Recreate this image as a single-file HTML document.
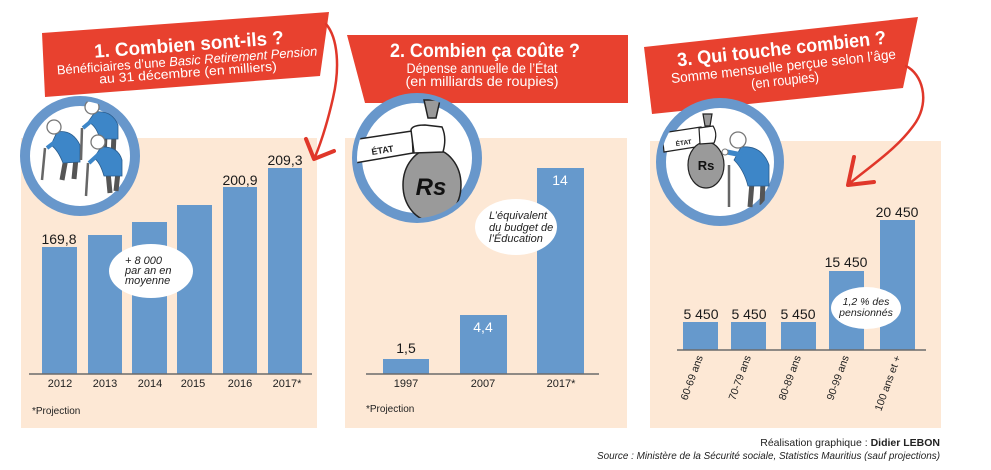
<!DOCTYPE html>
<html><head><meta charset="utf-8">
<style>
html,body{margin:0;padding:0;background:#fff;}
svg{display:block;}
text{font-family:"Liberation Sans",Arial,sans-serif;}
</style></head><body>
<svg width="991" height="470" viewBox="0 0 991 470" xmlns="http://www.w3.org/2000/svg">
<defs>
  <clipPath id="c1"><circle cx="80" cy="156" r="55"/></clipPath>
  <clipPath id="c2"><circle cx="417" cy="158" r="60"/></clipPath>
  <clipPath id="c3"><circle cx="720" cy="162" r="59"/></clipPath>
</defs>
<rect width="991" height="470" fill="#fff"/>

<!-- beige panels -->
<rect x="21" y="138" width="296" height="290" fill="#fde8d5"/>
<rect x="345" y="138" width="282" height="290" fill="#fde8d5"/>
<rect x="650" y="141" width="291" height="287" fill="#fde8d5"/>

<!-- banners -->
<polygon points="42,33 329,12 320,76 45,97" fill="#e8412f"/>
<polygon points="347,35 628,35 628,103 365,103" fill="#e8412f"/>
<polygon points="644,47 918,17 903,88 652,114" fill="#e8412f"/>

<!-- banner texts -->
<g transform="rotate(-4.2 187 60)" fill="#fff" text-anchor="middle">
  <text x="190" y="51" font-size="19" font-weight="bold" textLength="190" lengthAdjust="spacingAndGlyphs">1. Combien sont-ils ?</text>
  <text x="187" y="65" font-size="13" textLength="261" lengthAdjust="spacingAndGlyphs">Bénéficiaires d’une <tspan font-style="italic">Basic Retirement Pension</tspan></text>
  <text x="187" y="77" font-size="13" textLength="178" lengthAdjust="spacingAndGlyphs">au 31 décembre (en milliers)</text>
</g>
<g fill="#fff" text-anchor="middle">
  <text x="485" y="57" font-size="19" font-weight="bold" textLength="190" lengthAdjust="spacingAndGlyphs">2. Combien ça coûte ?</text>
  <text x="482" y="73" font-size="14" textLength="151" lengthAdjust="spacingAndGlyphs">Dépense annuelle de l’État</text>
  <text x="482" y="86" font-size="14" textLength="153" lengthAdjust="spacingAndGlyphs">(en milliards de roupies)</text>
</g>
<g transform="rotate(-6.2 783 62)" fill="#fff" text-anchor="middle">
  <text x="783" y="55" font-size="19" font-weight="bold" textLength="210" lengthAdjust="spacingAndGlyphs">3. Qui touche combien ?</text>
  <text x="783" y="71" font-size="14" textLength="226" lengthAdjust="spacingAndGlyphs">Somme mensuelle perçue selon l’âge</text>
  <text x="783" y="85" font-size="14" textLength="68" lengthAdjust="spacingAndGlyphs">(en roupies)</text>
</g>

<!-- arrows -->
<g fill="none" stroke="#e0372a" stroke-linecap="round" stroke-linejoin="round">
  <path d="M326,24 C338,38 340,68 333,98 C328,120 322,140 315,157" stroke-width="2.5"/>
  <polyline points="306,139 314,159 334,151" stroke-width="4"/>
  <path d="M906,66 C922,74 930,100 916,122 C900,146 876,162 850,183" stroke-width="2.5"/>
  <polyline points="854,157 848,185 874,182" stroke-width="4"/>
</g>

<!-- circles -->
<circle cx="80" cy="156" r="55" fill="#fff" stroke="#6897cb" stroke-width="10"/>
<circle cx="417" cy="158" r="60" fill="#fff" stroke="#6897cb" stroke-width="10"/>
<circle cx="720" cy="162" r="59" fill="#fff" stroke="#6897cb" stroke-width="10"/>

<!-- illustration 1: three old men -->
<g clip-path="url(#c1)">
  <!-- figure A -->
  <line x1="45" y1="148" x2="42" y2="180" stroke="#666" stroke-width="2.5"/>
  <path d="M66,158 L62,180 M76,158 L74,179" stroke="#555" stroke-width="5" fill="none"/>
  <path d="M57,132 Q72,129 80,145 L80,162 L63,163 Q58,150 51,145 Z" fill="#3d86c8" stroke="#2a5c8c" stroke-width="0.8"/>
  <line x1="60" y1="138" x2="47" y2="148" stroke="#3d86c8" stroke-width="4"/>
  <circle cx="54" cy="127" r="7" fill="#fff" stroke="#777" stroke-width="1.3"/>
  <!-- figure B -->
  <line x1="82" y1="128" x2="81" y2="160" stroke="#666" stroke-width="2.5"/>
  <path d="M105,134 L104,160 M114,134 L113,158" stroke="#555" stroke-width="5" fill="none"/>
  <path d="M95,112 Q112,110 118,125 L118,139 L100,139 Q96,125 88,122 Z" fill="#3d86c8" stroke="#2a5c8c" stroke-width="0.8"/>
  <line x1="95" y1="118" x2="83" y2="128" stroke="#3d86c8" stroke-width="4"/>
  <circle cx="92" cy="107" r="7" fill="#fff" stroke="#777" stroke-width="1.3"/>
  <!-- figure C -->
  <line x1="88" y1="163" x2="86" y2="196" stroke="#666" stroke-width="2.5"/>
  <path d="M108,172 L110,193 M118,172 L116,191" stroke="#555" stroke-width="5" fill="none"/>
  <path d="M101,147 Q118,146 122,160 L122,176 L104,176 Q100,162 94,158 Z" fill="#3d86c8" stroke="#2a5c8c" stroke-width="0.8"/>
  <line x1="100" y1="153" x2="89" y2="163" stroke="#3d86c8" stroke-width="4"/>
  <circle cx="98" cy="142" r="7" fill="#fff" stroke="#777" stroke-width="1.3"/>
</g>

<!-- illustration 2: hand with bag -->
<g clip-path="url(#c2)" stroke="#222" stroke-width="1.5">
  <polygon points="352,140 412,131 413,153 355,163" fill="#fff"/>
  <text x="372" y="155" transform="rotate(-9 372 155)" font-size="9" font-weight="bold" fill="#222" stroke="none">ÉTAT</text>
  <path d="M424,100 L440,100 L436,118 L428,118 Z" fill="#9a9a9a"/>
  <ellipse cx="432" cy="185" rx="29" ry="36" fill="#9a9a9a"/>
  <path d="M411,130 Q412,125 425,125 L442,127 Q447,138 443,152 L414,153 Z" fill="#fff"/>
  <text x="431" y="195" text-anchor="middle" font-size="24" font-weight="bold" font-style="italic" fill="#111" stroke="none">Rs</text>
</g>

<!-- illustration 3: bag + old man -->
<g clip-path="url(#c3)">
  <g stroke="#222" stroke-width="1.2">
    <polygon points="662,133 701,127 702,146 664,152" fill="#fff"/>
    <path d="M703,114 L712,114 L710,126 L705,126 Z" fill="#9a9a9a"/>
    <ellipse cx="706" cy="165" rx="18" ry="23" fill="#9a9a9a"/>
    <path d="M699,128 L713,126 Q718,134 714,143 L700,144 Z" fill="#fff"/>
  </g>
  <text x="676" y="146" transform="rotate(-8 676 146)" font-size="6.5" font-weight="bold" fill="#222">ÉTAT</text>
  <text x="706" y="170" text-anchor="middle" font-size="13" font-weight="bold" fill="#111">Rs</text>
  <line x1="729" y1="165" x2="729" y2="207" stroke="#666" stroke-width="2.5"/>
  <path d="M752,182 L750,207 M763,182 L762,205" stroke="#555" stroke-width="5" fill="none"/>
  <path d="M741,147 Q762,145 769,165 L769,186 L748,186 Q744,170 734,160 Z" fill="#3d86c8" stroke="#2a5c8c" stroke-width="0.8"/>
  <line x1="742" y1="155" x2="727" y2="152" stroke="#3d86c8" stroke-width="5"/>
  <circle cx="725" cy="152" r="3" fill="#fff" stroke="#777" stroke-width="1"/>
  <circle cx="738" cy="140" r="8" fill="#fff" stroke="#777" stroke-width="1.3"/>
</g>

<!-- Panel 1 chart -->
<g fill="#6699cc">
  <rect x="42" y="247" width="35" height="127"/>
  <rect x="88" y="235" width="34" height="139"/>
  <rect x="132" y="222" width="35" height="152"/>
  <rect x="177" y="205" width="35" height="169"/>
  <rect x="223" y="187" width="34" height="187"/>
  <rect x="268" y="168" width="34" height="206"/>
</g>
<line x1="29" y1="374" x2="312" y2="374" stroke="#6b6b6b" stroke-width="1.5"/>
<g font-size="14" fill="#1a1a1a" text-anchor="middle">
  <text x="59" y="244">169,8</text>
  <text x="240" y="185">200,9</text>
  <text x="285" y="165">209,3</text>
</g>
<g font-size="11" fill="#222" text-anchor="middle">
  <text x="60" y="387">2012</text>
  <text x="105" y="387">2013</text>
  <text x="150" y="387">2014</text>
  <text x="193" y="387">2015</text>
  <text x="240" y="387">2016</text>
  <text x="287" y="387">2017*</text>
</g>
<text x="32" y="414" font-size="10" fill="#222">*Projection</text>
<ellipse cx="151" cy="271" rx="42" ry="27" fill="#fff"/>
<g font-size="11" font-style="italic" fill="#222">
  <text x="125" y="264">+ 8 000</text>
  <text x="125" y="274">par an en</text>
  <text x="125" y="284">moyenne</text>
</g>

<!-- Panel 2 chart -->
<g fill="#6699cc">
  <rect x="383" y="359" width="46" height="15"/>
  <rect x="460" y="315" width="47" height="59"/>
  <rect x="537" y="168" width="47" height="206"/>
</g>
<line x1="366" y1="374" x2="599" y2="374" stroke="#6b6b6b" stroke-width="1.5"/>
<text x="406" y="353" font-size="14" fill="#1a1a1a" text-anchor="middle">1,5</text>
<text x="483" y="332" font-size="14" fill="#fff" text-anchor="middle">4,4</text>
<text x="560" y="185" font-size="14" fill="#fff" text-anchor="middle">14</text>
<g font-size="11" fill="#222" text-anchor="middle">
  <text x="406" y="387">1997</text>
  <text x="483" y="387">2007</text>
  <text x="561" y="387">2017*</text>
</g>
<text x="366" y="412" font-size="10" fill="#222">*Projection</text>
<ellipse cx="516" cy="227" rx="41" ry="28" fill="#fff"/>
<g font-size="11" font-style="italic" fill="#222">
  <text x="489" y="219">L’équivalent</text>
  <text x="489" y="231">du budget de</text>
  <text x="489" y="242">l’Éducation</text>
</g>

<!-- Panel 3 chart -->
<g fill="#6699cc">
  <rect x="683" y="322" width="35" height="28"/>
  <rect x="731" y="322" width="35" height="28"/>
  <rect x="781" y="322" width="35" height="28"/>
  <rect x="829" y="271" width="35" height="79"/>
  <rect x="880" y="220" width="35" height="130"/>
</g>
<line x1="677" y1="350" x2="926" y2="350" stroke="#6b6b6b" stroke-width="1.5"/>
<g font-size="14" fill="#1a1a1a" text-anchor="middle">
  <text x="701" y="319">5 450</text>
  <text x="749" y="319">5 450</text>
  <text x="798" y="319">5 450</text>
  <text x="846" y="267">15 450</text>
  <text x="897" y="217">20 450</text>
</g>
<g font-size="10.5" fill="#222" text-anchor="end">
  <text transform="translate(703,357) rotate(-70)">60-69 ans</text>
  <text transform="translate(751,357) rotate(-70)">70-79 ans</text>
  <text transform="translate(801,357) rotate(-70)">80-89 ans</text>
  <text transform="translate(849,357) rotate(-70)">90-99 ans</text>
  <text transform="translate(901,357) rotate(-70)">100 ans et +</text>
</g>
<ellipse cx="866" cy="308" rx="35" ry="21" fill="#fff"/>
<g font-size="10.5" font-style="italic" fill="#222" text-anchor="middle">
  <text x="866" y="305">1,2 % des</text>
  <text x="866" y="316">pensionnés</text>
</g>

<!-- footer -->
<text x="940" y="446" text-anchor="end" font-size="10.5" fill="#222">Réalisation graphique : <tspan font-weight="bold">Didier LEBON</tspan></text>
<text x="940" y="459" text-anchor="end" font-size="10.5" font-style="italic" fill="#222" textLength="343" lengthAdjust="spacingAndGlyphs">Source : Ministère de la Sécurité sociale, Statistics Mauritius (sauf projections)</text>
</svg>
</body></html>
